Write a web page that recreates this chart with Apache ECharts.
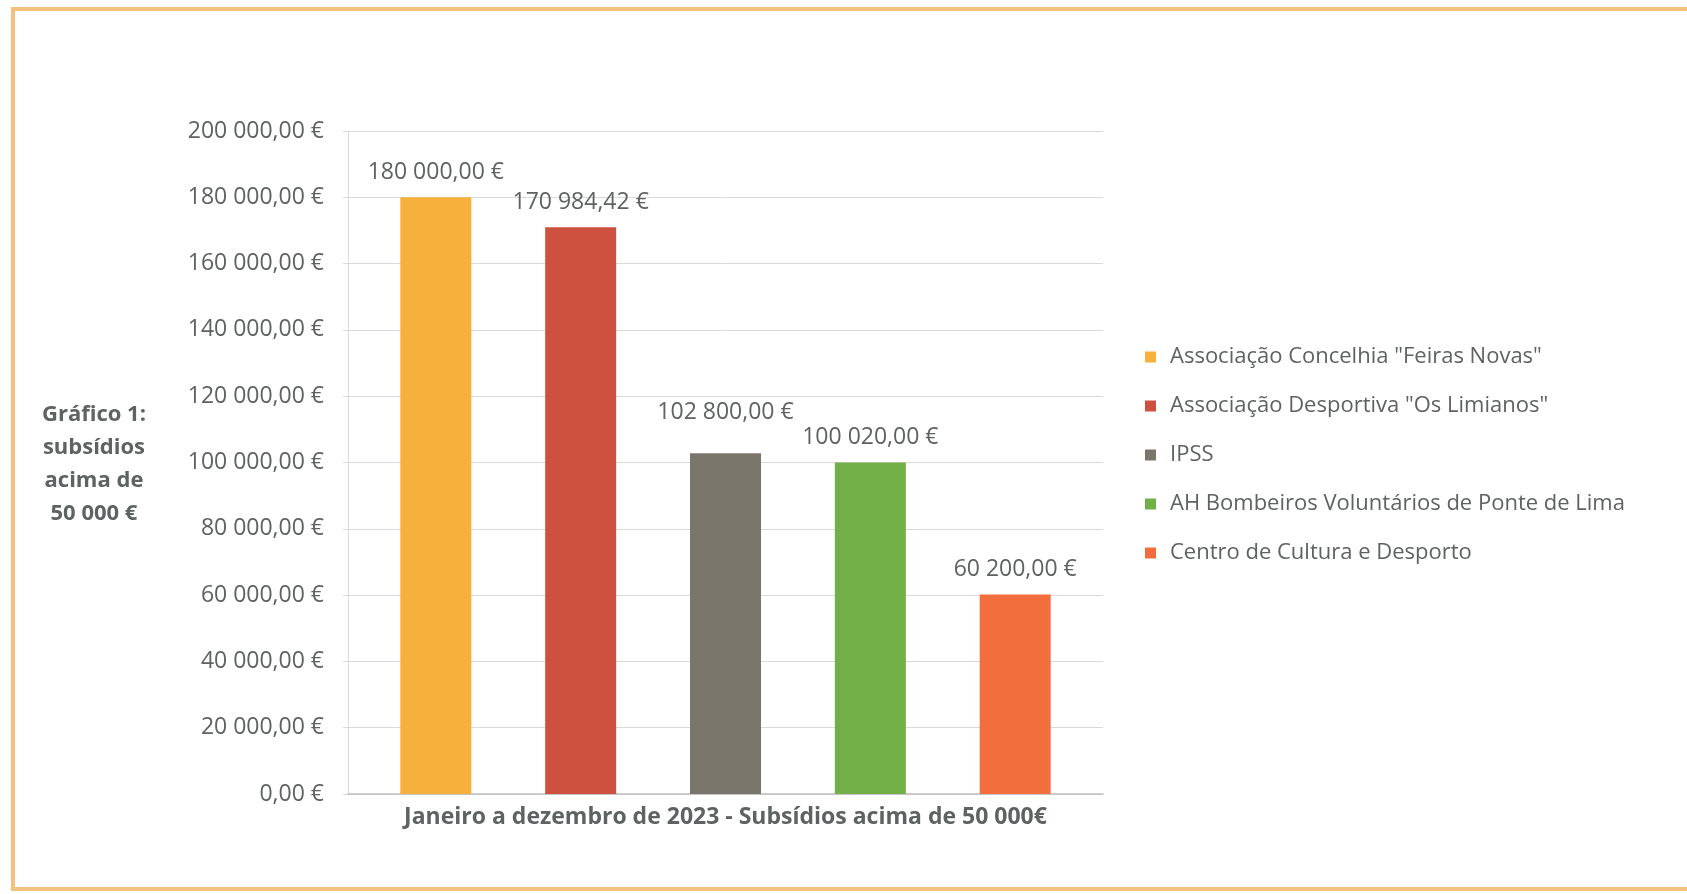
<!DOCTYPE html>
<html>
<head>
<meta charset="utf-8">
<script src="https://cdn.jsdelivr.net/npm/echarts@6/dist/echarts.min.js"></script>
<style>
html,body{margin:0;padding:0;background:#fff;}
#c{width:1687px;height:894px;}
</style>
</head>
<body>
<div id="c"></div>
<script>
var category = ['Janeiro a dezembro de 2023 - Subsídios acima de 50 000€'];
var seriesNames = [
  'Associação Concelhia "Feiras Novas"',
  'Associação Desportiva "Os Limianos"',
  'IPSS',
  'AH Bombeiros Voluntários de Ponte de Lima',
  'Centro de Cultura e Desporto'
];
var seriesValues = [180000, 170984.42, 102800, 100020, 60200];
var seriesColors = ['#F7B03B', '#CE5140', '#7B766C', '#72AF46', '#F26E3D'];
var yTickLabels = ['0,00 €', '20 000,00 €', '40 000,00 €', '60 000,00 €', '80 000,00 €',
  '100 000,00 €', '120 000,00 €', '140 000,00 €', '160 000,00 €', '180 000,00 €', '200 000,00 €'];
var sideTitle = 'Gráfico 1:\nsubsídios\nacima de\n50 000 €';

function fmtEuro(v) {
  var parts = v.toFixed(2).split('.');
  var intPart = parts[0].replace(/\B(?=(\d{3})+(?!\d))/g, ' ');
  return intPart + ',' + parts[1] + ' €';
}

var FONT = 'Open Sans';
var GRAY = '#5f6262';
var labelDistances = [13, 13, 29, 13, 13];

var series = seriesNames.map(function (n, i) {
  return {
    name: n,
    type: 'bar',
    barWidth: 71,
    barGap: '104%',
    itemStyle: { color: seriesColors[i] },
    label: {
      show: true,
      position: 'top',
      distance: labelDistances[i],
      color: GRAY,
      fontFamily: FONT,
      fontSize: 23,
      formatter: function (p) { return fmtEuro(p.value); }
    },
    data: [seriesValues[i]]
  };
});

var BORDER = '#F2C27E';
var chart = echarts.init(document.getElementById('c'));
chart.setOption({
  backgroundColor: '#ffffff',
  animation: false,
  graphic: [
    { type: 'line', shape: { x1: 11, y1: 9, x2: 1687, y2: 9 }, style: { stroke: BORDER, lineWidth: 4 }, z: -1 },
    { type: 'line', shape: { x1: 13, y1: 7, x2: 13, y2: 891 }, style: { stroke: BORDER, lineWidth: 4 }, z: -1 },
    { type: 'line', shape: { x1: 11, y1: 889, x2: 1687, y2: 889 }, style: { stroke: BORDER, lineWidth: 4 }, z: -1 },
    {
      type: 'text',
      left: 42,
      top: 398,
      style: {
        text: sideTitle,
        fill: GRAY,
        font: 'bold 22px ' + FONT,
        textAlign: 'center',
        lineHeight: 33
      }
    }
  ],
  legend: {
    orient: 'vertical',
    left: 1140,
    top: 341,
    itemWidth: 11,
    itemHeight: 11,
    itemGap: 27,
    icon: 'rect',
    textStyle: { color: GRAY, fontFamily: FONT, fontSize: 22, padding: [0, 0, 0, 9] },
    data: seriesNames
  },
  grid: { left: 348, right: 584, top: 131, bottom: 100, containLabel: false },
  xAxis: {
    type: 'category',
    data: category,
    axisLine: { lineStyle: { color: '#BFBFBF', width: 1.5 } },
    axisTick: { show: false },
    axisLabel: { color: GRAY, fontFamily: FONT, fontWeight: 'bold', fontSize: 23, margin: 12 }
  },
  yAxis: {
    type: 'value',
    min: 0,
    max: 200000,
    interval: 20000,
    axisLine: { show: true, lineStyle: { color: '#D9D9D9' } },
    axisTick: { show: true, length: 5, lineStyle: { color: '#D9D9D9' } },
    splitLine: { lineStyle: { color: '#D9D9D9' } },
    axisLabel: {
      color: GRAY,
      fontFamily: FONT,
      fontSize: 23,
      margin: 24,
      formatter: function (v) { return yTickLabels[Math.round(v / 20000)]; }
    }
  },
  series: series
});
</script>
</body>
</html>
